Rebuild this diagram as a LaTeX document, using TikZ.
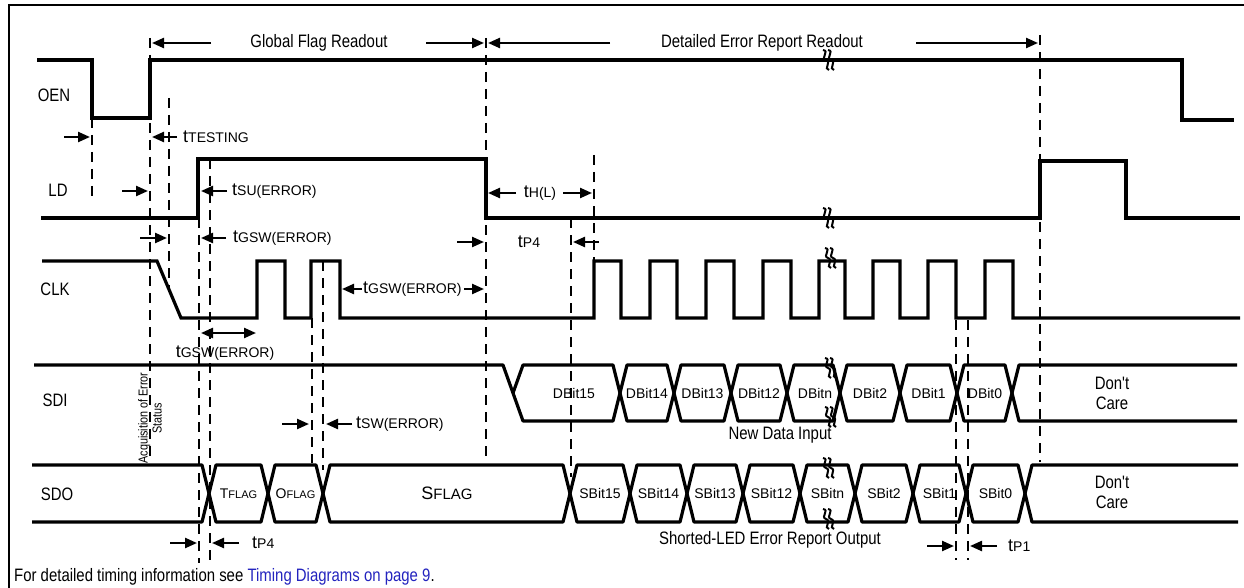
\documentclass[tikz,border=0pt]{standalone}
\usepackage{fontspec}
\setmainfont{Liberation Sans}
\newfontfamily\nar[FakeStretch=0.83]{Liberation Sans}
\usetikzlibrary{arrows.meta}
\definecolor{linkblue}{RGB}{35,35,190}
\newcommand\tlab[1]{{\fontsize{18}{20}\selectfont t}{\fontsize{14}{16}\selectfont #1}}
\newcommand\buscell[5]{\draw[bus] (#1,{(#3+#4)/2}) -- ({#1+#5},#3) -- ({#2-#5},#3) -- (#2,{(#3+#4)/2}) -- ({#2-#5},#4) -- ({#1+#5},#4) -- cycle;}
\newcommand\brk[2]{\begin{scope}[shift={(#1,#2)}]
 \draw[line width=2pt] (-5,-10) .. controls (2,-9) and (-8,-2) .. (-2,0) .. controls (4,2) and (-5,9) .. (1,10);
 \draw[line width=2pt] (0,-10) .. controls (7,-9) and (-3,-2) .. (3,0) .. controls (9,2) and (0,9) .. (6,10);
 \end{scope}}
\begin{document}
\begin{tikzpicture}[x=1pt,y=-1pt,
  sig/.style={line width=3.2pt},
  bus/.style={line width=3.2pt, line join=bevel},
  dsh/.style={line width=2.2pt, dash pattern=on 10pt off 7pt},
  tarr/.style={line width=2.3pt, -{Triangle[length=12pt,width=10pt]}},
  darr/.style={line width=2.3pt, {Triangle[length=12pt,width=10pt]}-{Triangle[length=12pt,width=10pt]}},
  lbl/.style={font=\nar\fontsize{18}{20}\selectfont, inner sep=0pt},
  cell/.style={font=\fontsize{14}{16}\selectfont, inner sep=0pt},
  tl/.style={inner sep=0pt, anchor=west}]
\useasboundingbox (0,0) rectangle (1244,588);
% frame
\draw[line width=2.5pt] (9,588) -- (9,5) -- (1244,5);

% signal names
\node[lbl] (nOEN) at (54,95) {OEN};
\node[lbl] (nLD) at (58,190) {LD};
\node[lbl] (nCLK) at (55,289) {CLK};
\node[lbl] (nSDI) at (55,400) {SDI};
\node[lbl] (nSDO) at (57,494) {SDO};

% dashed guide lines
\draw[dsh] (92,118) -- (92,200);
\draw[dsh] (150,38) -- (150,462);
\draw[dsh] (169,98) -- (169,290);
\draw[dsh] (199,218) -- (199,563);
\draw[dsh] (210,159) -- (210,563);
\draw[dsh] (312,318) -- (312,463);
\draw[dsh] (323,261) -- (323,470);
\draw[dsh] (486,38) -- (486,462);
\draw[dsh] (571,218) -- (571,477);
\draw[dsh] (594,155) -- (594,261);
\draw[dsh] (956,320) -- (956,560);
\draw[dsh] (968,320) -- (968,560);
\draw[dsh] (1040,35) -- (1040,462);

% OEN
\draw[sig] (37,60) -- (92,60) -- (92,118) -- (150,118) -- (150,60) -- (1182,60) -- (1182,120) -- (1234,120);
% LD
\draw[sig] (41,218) -- (198,218) -- (198,159) -- (486,159) -- (486,218) -- (1040,218) -- (1040,161) -- (1126,161) -- (1126,218) -- (1240,218);
% CLK
\draw[sig] (42,261) -- (157,261) -- (181,318) -- (257,318) -- (257,261) -- (285,261) -- (285,318) -- (311,318) -- (311,261) -- (340,261) -- (340,318)
  -- (594,318) -- (594,261) -- (621,261) -- (621,318) -- (650,318) -- (650,261) -- (677,261) -- (677,318)
  -- (706,318) -- (706,261) -- (734,261) -- (734,318) -- (763,318) -- (763,261) -- (791,261) -- (791,318)
  -- (819,318) -- (819,261) -- (845,261) -- (845,318) -- (873,318) -- (873,261) -- (900,261) -- (900,318)
  -- (928,318) -- (928,261) -- (956,261) -- (956,318) -- (985,318) -- (985,261) -- (1013,261) -- (1013,318) -- (1240,318);

% SDI
\draw[sig, line join=bevel] (34,365) -- (503,365) -- (513,393);
\draw[bus] (513,393) -- (523,365) -- (613,365) -- (620,393) -- (613,421) -- (523,421) -- cycle;
\buscell{620}{674}{365}{421}{7}
\buscell{674}{731}{365}{421}{7}
\buscell{731}{787}{365}{421}{7}
\buscell{787}{840}{365}{421}{7}
\buscell{840}{900}{365}{421}{7}
\buscell{900}{957}{365}{421}{7}
\buscell{957}{1012}{365}{421}{7}
\draw[bus] (1237,365) -- (1019,365) -- (1012,393) -- (1019,421) -- (1237,421);

% SDO
\draw[bus] (32,465) -- (202,465) -- (209,493.5) -- (202,522) -- (32,522);
\buscell{209}{268}{465}{522}{7}
\buscell{268}{323}{465}{522}{7}
\buscell{323}{570}{465}{522}{7}
\buscell{570}{630}{465}{522}{7}
\buscell{630}{687}{465}{522}{7}
\buscell{687}{743}{465}{522}{7}
\buscell{743}{800}{465}{522}{7}
\buscell{800}{855}{465}{522}{7}
\buscell{855}{913}{465}{522}{7}
\buscell{913}{966}{465}{522}{7}
\buscell{966}{1025}{465}{522}{7}
\draw[bus] (1238,465) -- (1032,465) -- (1025,493.5) -- (1032,522) -- (1238,522);

% break marks
\brk{828}{60}
\brk{828}{218}
\brk{830}{258}
\brk{830}{368}
\brk{830}{417}
\brk{828}{468}
\brk{828}{519}

% cell labels SDI
\node[cell] (d15) at (574,393) {DBit15};
\node[cell] (d14) at (647,393) {DBit14};
\node[cell] (d13) at (702.5,393) {DBit13};
\node[cell] (d12) at (759,393) {DBit12};
\node[cell] (dn) at (815,393) {DBitn};
\node[cell] (d2) at (870,393) {DBit2};
\node[cell] (d1) at (928.5,393) {DBit1};
\node[cell] (d0) at (985,393) {DBit0};
\node[lbl, align=center] (dc1) at (1112,393) {Don't\\Care};
\node[lbl] (ndi) at (780,435) {New Data Input};

% cell labels SDO
\node[cell] (tf) at (238.5,494) {T{\fontsize{11}{13}\selectfont FLAG}};
\node[cell] (of) at (295.5,494) {O{\fontsize{11}{13}\selectfont FLAG}};
\node[cell] (sf) at (447,493) {{\fontsize{18}{20}\selectfont S}{\fontsize{15}{17}\selectfont FLAG}};
\node[cell] (s15) at (600,493) {SBit15};
\node[cell] (s14) at (658.5,493) {SBit14};
\node[cell] (s13) at (715,493) {SBit13};
\node[cell] (s12) at (771.5,493) {SBit12};
\node[cell] (sn) at (827.5,493) {SBitn};
\node[cell] (s2) at (884,493) {SBit2};
\node[cell] (s1) at (939.5,493) {SBit1};
\node[cell] (s0) at (995.5,493) {SBit0};
\node[lbl, align=center] (dc2) at (1112,492) {Don't\\Care};
\node[lbl] (sleo) at (770,540) {Shorted-LED Error Report Output};

% top headings
\node[lbl] (gfr) at (319,43) {Global Flag Readout};
\node[lbl] (derr) at (762,43) {Detailed Error Report Readout};
\draw[tarr] (211,43) -- (152,43);
\draw[tarr] (426,43) -- (484,43);
\draw[tarr] (610,43) -- (488,43);
\draw[tarr] (916,43) -- (1038,43);

% acquisition text
\node[font=\nar\fontsize{13}{14}\selectfont, align=center, rotate=90, inner sep=0pt] (acq) at (150,418) {Acquisition of Error\\Status};

% timing arrows and labels
\draw[tarr] (64,137) -- (90,137);
\draw[tarr] (177,137) -- (152,137);
\node[tl] (tt) at (183,137) {\tlab{TESTING}};

\draw[tarr] (122,191) -- (148,191);
\draw[tarr] (227,191) -- (201,191);
\node[tl] (tsu) at (232,191) {\tlab{SU(ERROR)}};

\draw[tarr] (140,238) -- (167,238);
\draw[tarr] (226,238) -- (201,238);
\node[tl] (tg1) at (233,238) {\tlab{GSW(ERROR)}};

\draw[tarr] (362,289) -- (342,289);
\node[tl] (tg2) at (363,289) {\tlab{GSW(ERROR)}};
\draw[tarr] (464,289) -- (484,289);

\draw[darr] (201,333) -- (256,333);
\node[inner sep=0pt] (tg3) at (225,353) {\tlab{GSW(ERROR)}};

\draw[tarr] (516,193) -- (488,193);
\node[inner sep=0pt] (thl) at (540,193) {\tlab{H(L)}};
\draw[tarr] (563,193) -- (592,193);

\draw[tarr] (457,242) -- (484,242);
\node[inner sep=0pt] (tp4a) at (529,242) {\tlab{P4}};
\draw[tarr] (599,242) -- (573,242);

\draw[tarr] (282,424) -- (309,424);
\draw[tarr] (352,424) -- (326,424);
\node[tl] (tsw) at (356,424) {\tlab{SW(ERROR)}};

\draw[tarr] (170,543) -- (197,543);
\draw[tarr] (239,543) -- (212,543);
\node[tl] (tp4b) at (252,543) {\tlab{P4}};

\draw[tarr] (927,546) -- (954,546);
\draw[tarr] (997,546) -- (970,546);
\node[tl] (tp1) at (1008,546) {\tlab{P1}};

% footnote
\node[lbl, anchor=west] (foot) at (14,577) {For detailed timing information see \textcolor{linkblue}{Timing Diagrams on page 9}.};
\end{tikzpicture}
\end{document}
